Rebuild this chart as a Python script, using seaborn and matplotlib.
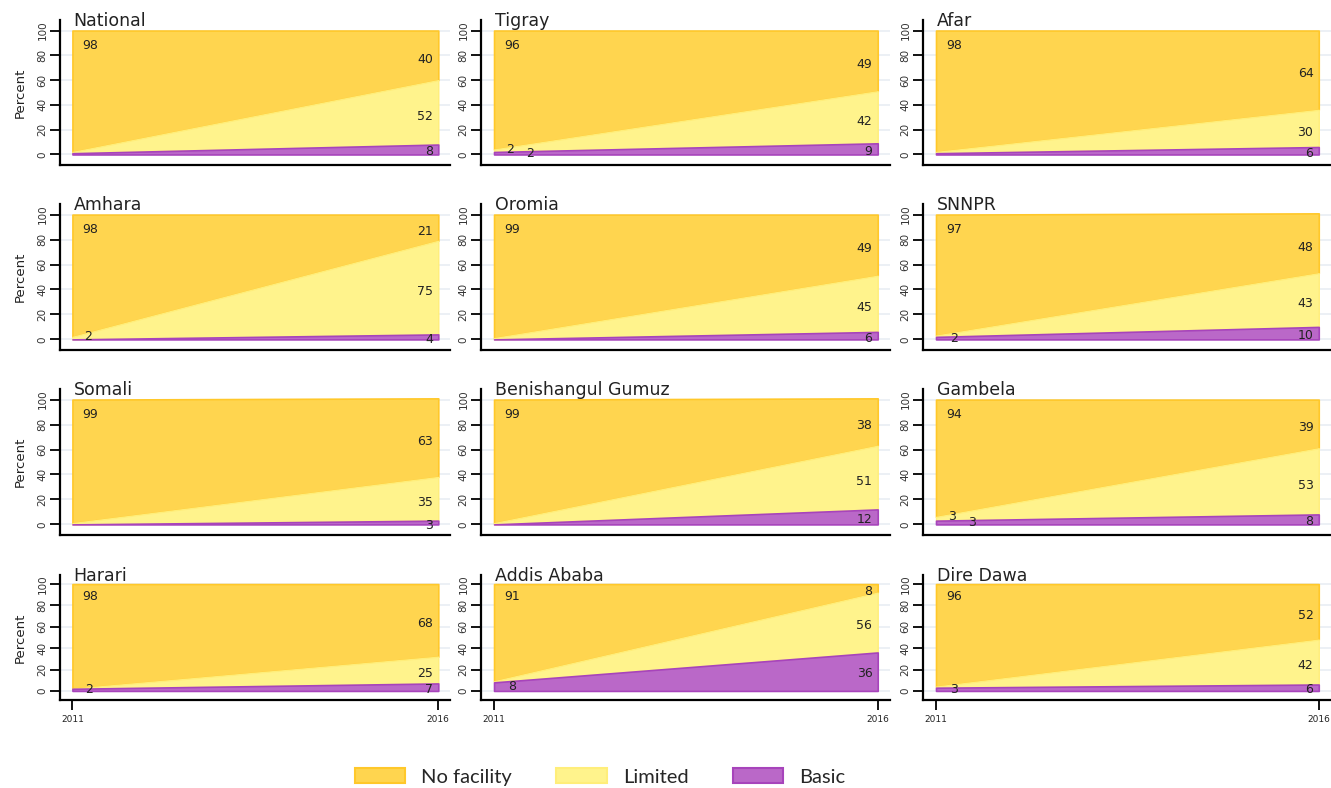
import matplotlib
matplotlib.use("Agg")
import matplotlib.pyplot as plt
import matplotlib.patches as mpatches
import numpy as np
import pandas as pd
import seaborn as sns

# datos
regions = ["National", "Tigray", "Afar", "Amhara", "Oromia", "SNNPR",
           "Somali", "Benishangul Gumuz", "Gambela", "Harari", "Addis Ababa", "Dire Dawa"]
years = [2011, 2016]
basic_2011 = [1, 2, 1, 0, 0, 2, 0, 0, 3, 2, 8, 3]
limited_2011 = [1, 2, 1, 2, 1, 1, 1, 1, 3, 0, 1, 1]
none_2011 = [98, 96, 98, 98, 99, 97, 99, 99, 94, 98, 91, 96]
basic_2016 = [8, 9, 6, 4, 6, 10, 3, 12, 8, 7, 36, 6]
limited_2016 = [52, 42, 30, 75, 45, 43, 35, 51, 53, 25, 56, 42]
none_2016 = [40, 49, 64, 21, 49, 48, 63, 38, 39, 68, 8, 52]

categories = ["No facility", "Limited", "Basic"]
fills = {"No facility": "#FFD54F", "Limited": "#FFF38C", "Basic": "#BA68C8"}
edges = {"No facility": "#FFC82A", "Limited": "#FFEE7A", "Basic": "#A744BB"}

rows = []
for i, r in enumerate(regions):
    rows.append([r, 2011, basic_2011[i], limited_2011[i], none_2011[i]])
    rows.append([r, 2016, basic_2016[i], limited_2016[i], none_2016[i]])
df = pd.DataFrame(rows, columns=["region", "year", "Basic", "Limited", "No facility"])

sns.set_theme(style="white")
plt.rcParams["font.family"] = ["DejaVu Sans"]

fig = plt.figure(figsize=(13.31, 7.88), dpi=100)
W, H = 1331, 788
col_x = [(60, 450), (481, 890), (923, 1331)]
row_y = [(20, 165), (204, 350), (389, 535), (575, 700)]

for k, region in enumerate(regions):
    r, c = divmod(k, 3)
    x0, x1 = col_x[c]
    y0, y1 = row_y[r]
    ax = fig.add_axes([x0 / W, 1 - y1 / H, (x1 - x0) / W, (y1 - y0) / H])
    d = df[df.region == region].sort_values("year")
    x = d.year.values
    b = d["Basic"].values
    l = d["Limited"].values
    n = d["No facility"].values

    ax.fill_between(x, b + l, b + l + n, facecolor=fills["No facility"],
                    edgecolor=edges["No facility"], lw=1.2, zorder=2)
    ax.fill_between(x, b, b + l, facecolor=fills["Limited"],
                    edgecolor=edges["Limited"], lw=1.0, zorder=3)
    ax.fill_between(x, 0, b, facecolor=fills["Basic"],
                    edgecolor=edges["Basic"], lw=1.2, zorder=4)

    ax.set_xlim(2010.83, 2016.16)
    ax.set_ylim(-8.5, 108.5)
    ax.set_yticks([0, 20, 40, 60, 80, 100])
    ax.set_yticklabels(["0", "20", "40", "60", "80", "100"], rotation=90,
                       va="center", fontsize=7.5, color="#333333")
    ax.grid(axis="y", color="#E9EEF3", lw=1.2, zorder=0)
    ax.tick_params(axis="y", length=7, width=1.3, color="black", pad=2, left=True)
    if r == 3:
        ax.set_xticks(years)
        ax.set_xticklabels([str(y) for y in years], fontsize=6.5, color="#222222")
        ax.tick_params(axis="x", length=7, width=1.3, color="black", pad=4, bottom=True)
    else:
        ax.set_xticks([])
    for s in ["top", "right"]:
        ax.spines[s].set_visible(False)
    for s in ["left", "bottom"]:
        ax.spines[s].set_color("black")
        ax.spines[s].set_linewidth(1.6)
    if c == 0:
        ax.set_ylabel("Percent", fontsize=9.5, labelpad=8, color="#222222")
    ax.text(0.035, 0.995, region, transform=ax.transAxes, fontsize=12.5,
            ha="left", va="center", color="#222222", zorder=6)

    # etiquetas 2016
    lbl = dict(fontsize=9, color="#222222", zorder=6, va="center")
    ax.text(2015.93, b[1] + l[1] + n[1] / 2 - 3, str(n[1]), ha="right", **lbl)
    ax.text(2015.93, b[1] + l[1] / 2 - 3, str(l[1]), ha="right", **lbl)
    ax.text(2015.93, b[1] / 2 - 2, str(b[1]), ha="right", **lbl)
    # etiquetas 2011
    ax.text(2011.13, 88, str(n[0]), ha="left", **lbl)
    if l[0] >= 2:
        ax.text(2011.16, b[0] + l[0], str(l[0]), ha="left", **lbl)
    if b[0] >= 2:
        xb = 2011.42 if l[0] >= 2 else 2011.18
        ax.text(xb, max(b[0] / 2, 0.5), str(b[0]), ha="left", **lbl)

handles = [mpatches.Patch(facecolor=fills[c], edgecolor=edges[c], lw=1.5, label=c)
           for c in categories]
fig.legend(handles=handles, loc="center", bbox_to_anchor=(600 / W, 1 - 777 / H), ncol=3,
           frameon=False, prop={"family": "Lato", "size": 14.5}, handlelength=2.5,
           handleheight=0.7, handletextpad=0.8, columnspacing=2.2)

fig.savefig("out.png", dpi=100)
